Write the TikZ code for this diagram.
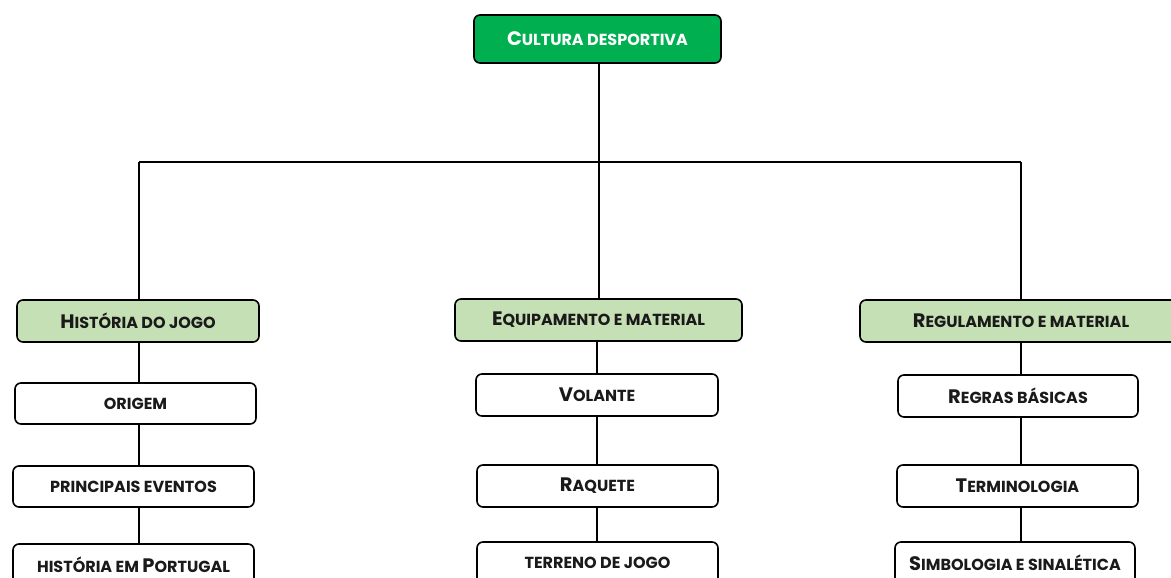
\documentclass[tikz,border=0pt]{standalone}
\usepackage{fontspec}
\setmainfont{Poppins}
\definecolor{darkgreen}{HTML}{00B050}
\definecolor{lightgreen}{HTML}{C5E0B4}
\definecolor{txt}{HTML}{1A1A1A}
\newcommand\Bg[1]{{\fontsize{19.5}{19.5}\selectfont #1}}
\newcommand\Bt[1]{{\fontsize{19.5}{19.5}\selectfont #1}}
\tikzset{
  box/.style={draw=black, line width=1.6pt, rounded corners=6pt, fill=white,
    text=txt, font=\fontsize{16}{16}\selectfont\bfseries, inner sep=0pt},
  topbox/.style={box, fill=darkgreen, text=white, font=\fontsize{16}{16}\selectfont\bfseries},
  catbox/.style={box, fill=lightgreen},
  conn/.style={line width=1.6pt, draw=black}
}
\begin{document}
\begin{tikzpicture}[x=1pt,y=-1pt]
\useasboundingbox (0,0) rectangle (1171,578);
% nodes
\node[topbox, minimum width=247pt, minimum height=48pt] (top) at (597.5,39) {\Bt{C}ULTURA DESPORTIVA};
\node[catbox, minimum width=242pt, minimum height=42pt] (g1) at (138,321) {\Bg{H}ISTÓRIA DO JOGO};
\node[catbox, minimum width=287pt, minimum height=42pt] (g2) at (598.5,320) {\Bg{E}QUIPAMENTO E MATERIAL};
\node[catbox, minimum width=322pt, minimum height=42pt] (g3) at (1021,321) {\Bg{R}EGULAMENTO E MATERIAL};
\node[box, minimum width=241pt, minimum height=41pt] (o1) at (135.5,403.5) {ORIGEM};
\node[box, minimum width=241pt, minimum height=41pt] (o2) at (133.5,486.5) {PRINCIPAIS EVENTOS};
\node[box, minimum width=241pt, minimum height=41pt] (o3) at (133.5,564.5) {HISTÓRIA EM \Bg{P}ORTUGAL};
\node[box, minimum width=242pt, minimum height=42pt] (v1) at (597,395) {\Bg{V}OLANTE};
\node[box, minimum width=241pt, minimum height=42pt] (v2) at (597.5,486) {\Bg{R}AQUETE};
\node[box, minimum width=241pt, minimum height=42pt] (v3) at (597.5,563) {TERRENO DE JOGO};
\node[box, minimum width=240pt, minimum height=42pt] (r1) at (1018,396) {\Bg{R}EGRAS BÁSICAS};
\node[box, minimum width=241pt, minimum height=42pt] (r2) at (1017.5,486) {\Bg{T}ERMINOLOGIA};
\node[box, minimum width=240pt, minimum height=42pt] (r3) at (1015,563) {\Bg{S}IMBOLOGIA E SINALÉTICA};
% bus
\coordinate (bL) at (139,162);
\coordinate (bM) at (599,162);
\coordinate (cM) at (597,162);
\coordinate (bR) at (1021,162);
\draw[conn] (bM |- top.south) -- (bM);
\draw[conn] (bL) -- (bR);
\draw[conn] (bL) -- (bL |- g1.north);
\draw[conn] (bM) -- (bM |- g2.north);
\draw[conn] (bR) -- (bR |- g3.north);
\draw[conn] (bL |- g1.south) -- (bL |- o1.north);
\draw[conn] (bL |- o1.south) -- (bL |- o2.north);
\draw[conn] (bL |- o2.south) -- (bL |- o3.north);
\draw[conn] (cM |- g2.south) -- (cM |- v1.north);
\draw[conn] (cM |- v1.south) -- (cM |- v2.north);
\draw[conn] (cM |- v2.south) -- (cM |- v3.north);
\draw[conn] (bR |- g3.south) -- (bR |- r1.north);
\draw[conn] (bR |- r1.south) -- (bR |- r2.north);
\draw[conn] (bR |- r2.south) -- (bR |- r3.north);
\end{tikzpicture}
\end{document}
